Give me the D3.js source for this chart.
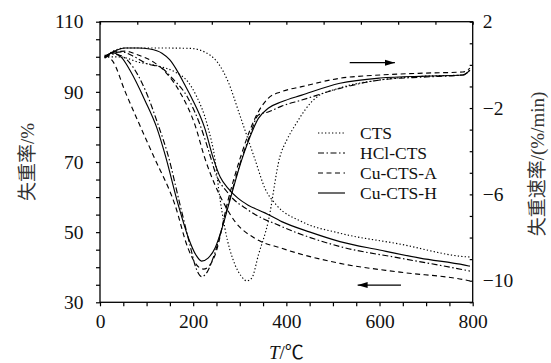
<!DOCTYPE html>
<html>
<head>
<meta charset="utf-8">
<script src="https://cdn.jsdelivr.net/npm/d3@7"></script>
<style>
  body { margin: 0; background: #fff; }
  text { font-family: 'Liberation Serif', 'Noto Sans CJK SC', serif; }
</style>
</head>
<body>
<script>
'use strict';

const w = 551;
const h = 363;
const m = {l: 100, r: 78.3, t: 21.7, b: 60.7};

// TG curves (left axis, %)
const tCtsTg = [10, 28, 54, 129, 193, 236, 254, 275, 300, 333, 354, 379, 433, 515, 644, 783, 794];
const ctsTg = [99.9, 101.6, 102.5, 102.5, 102.4, 100.5, 98.1, 92.9, 83.4, 70.6, 62.5, 57.7, 53.0, 49.7, 46.6, 43.0, 42.9];

const tHclTg = [10, 28, 47, 75, 103, 129, 155, 189, 215, 238, 247, 275, 318, 390, 515, 644, 783, 794];
const hclTg = [99.6, 101.1, 101.4, 99.9, 97.9, 97.1, 93.9, 88.2, 80.5, 71.1, 67.2, 61.1, 56.3, 51.6, 45.9, 42.6, 39.2, 38.9];

const tCuATg = [10, 32, 54, 82, 107, 140, 175, 204, 225, 247, 268, 290, 333, 390, 515, 644, 783, 794];
const cuATg = [99.9, 101.4, 101.6, 100.5, 99.1, 95.7, 89.1, 80.5, 71.1, 63.4, 57.7, 53.0, 48.2, 45.4, 41.1, 38.6, 36.4, 36.1];

const tCuHTg = [10, 28, 54, 82, 107, 133, 150, 167, 182, 197, 225, 243, 258, 275, 296, 318, 354, 390, 451, 515, 600, 687, 783, 794];
const cuHTg = [99.9, 101.4, 102.5, 102.5, 102.2, 101.0, 99.1, 95.7, 92.0, 88.2, 79.6, 71.1, 65.7, 62.5, 59.7, 57.7, 55.5, 53.0, 50.0, 47.3, 44.9, 42.6, 40.6, 40.3];

// DTG curves (right axis, %/min)
const tCtsDtg = [10, 43, 82, 124, 161, 189, 206, 232, 247, 255, 268, 290, 303, 315, 326, 340, 361, 386, 401, 419, 462, 515, 601, 700, 779, 794];
const ctsDtg = [0.37, 0.37, 0.13, -0.05, -0.33, -0.79, -1.40, -2.92, -4.41, -5.80, -7.56, -9.27, -9.78, -10.01, -9.87, -8.81, -7.27, -4.27, -3.48, -2.79, -1.55, -1.07, -0.70, -0.52, -0.47, -0.24];

const tHclDtg = [10, 28, 47, 69, 97, 125, 146, 172, 193, 206, 218, 230, 245, 275, 303, 322, 340, 361, 390, 433, 515, 601, 700, 779, 794];
const hclDtg = [0.32, 0.50, 0.41, -0.05, -1.16, -2.79, -4.18, -6.50, -8.34, -9.41, -9.81, -9.60, -8.81, -6.49, -4.41, -3.25, -2.32, -2.18, -1.91, -1.63, -1.09, -0.70, -0.56, -0.47, -0.24];

const tCuADtg = [10, 21, 28, 54, 82, 114, 161, 189, 206, 222, 236, 247, 275, 303, 322, 340, 361, 390, 433, 515, 601, 700, 779, 794];
const cuADtg = [0.46, 0.32, 0.15, -1.24, -2.63, -4.18, -6.49, -8.50, -9.23, -9.46, -9.27, -8.81, -6.26, -4.18, -3.02, -2.17, -1.55, -1.24, -1.01, -0.62, -0.47, -0.38, -0.33, -0.15];

const tCuHDtg = [10, 28, 47, 64, 97, 122, 140, 168, 190, 206, 218, 232, 247, 262, 279, 304, 318, 340, 361, 390, 433, 515, 601, 700, 779, 794];
const cuHDtg = [0.41, 0.55, 0.32, -0.24, -1.67, -2.92, -4.18, -6.49, -8.03, -8.81, -9.09, -8.95, -8.48, -7.56, -6.26, -4.41, -3.56, -2.48, -2.01, -1.71, -1.40, -0.85, -0.61, -0.52, -0.47, -0.24];

const names = ['CTS', 'HCl-CTS', 'Cu-CTS-A', 'Cu-CTS-H'];
const dashes = ['1.3,2.2', '6,2.5,1.5,2.5', '5,3.5', null];

const svg = d3.select('body').append('svg').attr('width', w).attr('height', h);

const x = d3.scaleLinear().domain([0, 800]).range([m.l, w - m.r]);
const yL = d3.scaleLinear().domain([30, 110]).range([h - m.b, m.t]);
const yR = d3.scaleLinear().domain([-11, 2]).range([h - m.b, m.t]);

const minus = (d) => d < 0 ? '\u2212' + (-d) : d;

// axes
const ax = svg.append('g');

ax.append('g').attr('transform', `translate(${m.l},0)`)
  .call(d3.axisLeft(yL).tickValues(d3.range(30, 111, 5)).tickSize(4).tickSizeOuter(0).tickPadding(12.5)
    .tickFormat((d) => d % 20 === 10 ? d : ''));
ax.append('g').attr('transform', `translate(0,${h - m.b})`)
  .call(d3.axisBottom(x).tickValues(d3.range(0, 801, 50)).tickSize(4).tickSizeOuter(0).tickPadding(8)
    .tickFormat((d) => d % 200 === 0 ? d : ''));
ax.append('g').attr('transform', `translate(0,${m.t})`)
  .call(d3.axisTop(x).tickValues(d3.range(0, 801, 80)).tickSize(-3).tickSizeOuter(0).tickFormat(''));
ax.append('g').attr('transform', `translate(${w - m.r},0)`)
  .call(d3.axisRight(yR).tickValues(d3.range(-11, 3, 1)).tickSize(-3).tickSizeOuter(0).tickPadding(10)
    .tickFormat((d) => [2, -2, -6, -10].includes(d) ? minus(d) : ''));

ax.selectAll('.domain').remove();
ax.selectAll('.tick line').attr('stroke', '#000').attr('stroke-width', 1.2);
ax.selectAll('.tick text')
  .attr('fill', '#111')
  .attr('font-size', 19.5)
  .attr('font-family', "'Liberation Serif', serif");

svg.append('rect')
  .attr('x', m.l).attr('y', m.t)
  .attr('width', w - m.l - m.r).attr('height', h - m.t - m.b)
  .attr('fill', 'none').attr('stroke', '#000').attr('stroke-width', 1.3);

// curves
const tg = [[tCtsTg, ctsTg], [tHclTg, hclTg], [tCuATg, cuATg], [tCuHTg, cuHTg]];
const dtg = [[tCtsDtg, ctsDtg], [tHclDtg, hclDtg], [tCuADtg, cuADtg], [tCuHDtg, cuHDtg]];

const lineL = d3.line().x((d) => x(d[0])).y((d) => yL(d[1])).curve(d3.curveMonotoneX);
const lineR = d3.line().x((d) => x(d[0])).y((d) => yR(d[1])).curve(d3.curveMonotoneX);

const plot = svg.append('g');
tg.forEach((s, i) => {
  plot.append('path')
    .datum(d3.zip(s[0], s[1]))
    .attr('d', lineL)
    .attr('fill', 'none').attr('stroke', '#000').attr('stroke-width', 1.15)
    .attr('stroke-dasharray', dashes[i]);
});
dtg.forEach((s, i) => {
  plot.append('path')
    .datum(d3.zip(s[0], s[1]))
    .attr('d', lineR)
    .attr('fill', 'none').attr('stroke', '#000').attr('stroke-width', 1.15)
    .attr('stroke-dasharray', dashes[i]);
});

// legend
const lg = svg.append('g').attr('transform', 'translate(318,133)');
names.forEach((n, i) => {
  lg.append('line')
    .attr('x1', 0).attr('x2', 27).attr('y1', i * 20).attr('y2', i * 20)
    .attr('stroke', '#000').attr('stroke-width', 1.15)
    .attr('stroke-dasharray', dashes[i]);
  lg.append('text')
    .attr('x', 42).attr('y', i * 20).attr('dy', '0.34em')
    .attr('font-size', 17.5).attr('fill', '#111')
    .text(n);
});

// arrows pointing to the axis each curve family uses
svg.append('defs').append('marker')
  .attr('id', 'head').attr('viewBox', '0 0 10 8').attr('refX', 10).attr('refY', 4)
  .attr('markerWidth', 10).attr('markerHeight', 8).attr('markerUnits', 'userSpaceOnUse')
  .attr('orient', 'auto')
  .append('path').attr('d', 'M0,1 L10,4 L0,7 Z').attr('fill', '#000');

svg.append('line')
  .attr('x1', x(536)).attr('x2', x(633)).attr('y1', yR(0.1)).attr('y2', yR(0.1))
  .attr('stroke', '#000').attr('stroke-width', 1.2).attr('marker-end', 'url(#head)');
svg.append('line')
  .attr('x1', x(646)).attr('x2', x(553)).attr('y1', yL(34.9)).attr('y2', yL(34.9))
  .attr('stroke', '#000').attr('stroke-width', 1.2).attr('marker-end', 'url(#head)');

// axis titles
svg.append('text')
  .attr('transform', `translate(27,${(m.t + h - m.b) / 2}) rotate(-90)`)
  .attr('text-anchor', 'middle').attr('dy', '0.35em')
  .attr('font-size', 19).attr('fill', '#333')
  .text('失重率/%');

svg.append('text')
  .attr('transform', `translate(537,${(m.t + h - m.b) / 2 + 2}) rotate(-90)`)
  .attr('text-anchor', 'middle').attr('dy', '0.35em')
  .attr('font-size', 19).attr('fill', '#333')
  .text('失重速率/(%/min)');

const xt = svg.append('text')
  .attr('x', x(400)).attr('y', 359)
  .attr('text-anchor', 'middle')
  .attr('font-size', 19).attr('fill', '#111');
xt.append('tspan').attr('font-style', 'italic').text('T');
xt.append('tspan').text('/℃');
</script>
</body>
</html>
